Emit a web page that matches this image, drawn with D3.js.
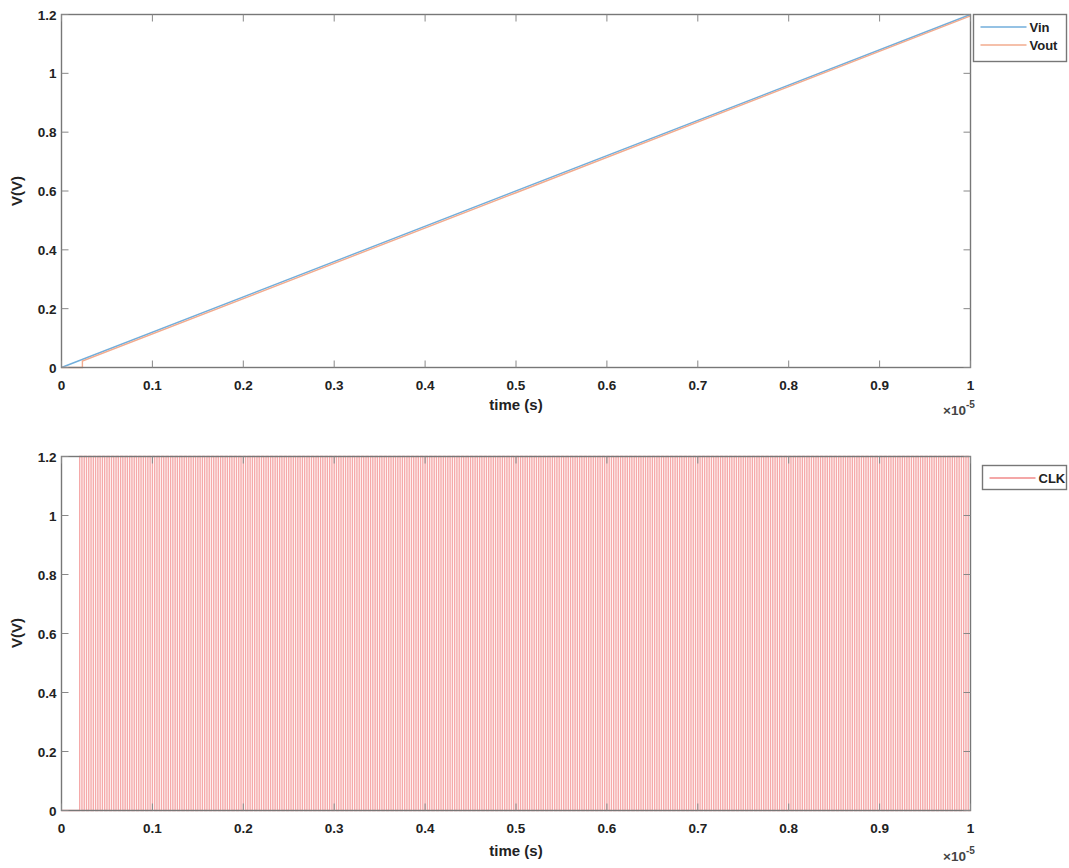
<!DOCTYPE html>
<html><head><meta charset="utf-8">
<script src="https://cdn.jsdelivr.net/npm/d3@7"></script>
<style>
html,body{margin:0;padding:0;background:#fff;}
text{font-family:"Liberation Sans",Arial,sans-serif;font-weight:bold;fill:#222;}
</style></head>
<body>
<svg id="c" width="1069" height="868"></svg>
<script>
// ---- data (time in units of 1e-5 s, voltage in V) ----
const xTicks = [0, 0.1, 0.2, 0.3, 0.4, 0.5, 0.6, 0.7, 0.8, 0.9, 1];
const yTicks = [0, 0.2, 0.4, 0.6, 0.8, 1, 1.2];
const xTickLabels = ["0","0.1","0.2","0.3","0.4","0.5","0.6","0.7","0.8","0.9","1"];
const yTickLabels = ["0","0.2","0.4","0.6","0.8","1","1.2"];
const vinT = [0, 1];
const vinV = [0, 1.2];
const voutT = [0, 0.023, 0.023, 0.5, 1];
const voutV = [0, 0, 0.022, 0.594, 1.195];
const clkLevels = [0, 1.2];
const clkStart = 0.02;
const clkPeriod = 0.005;
const clkEnd = 1;
const legendTop = ["Vin", "Vout"];
const legendBottom = ["CLK"];

// clock edges built from its start, period and levels
const clkPts = [[0, clkLevels[0]], [clkStart, clkLevels[0]]];
for (let k = 0; clkStart + k * clkPeriod < clkEnd - 1e-9; k++) {
  const t0 = clkStart + k * clkPeriod, t1 = Math.min(t0 + clkPeriod / 2, clkEnd), t2 = Math.min(t0 + clkPeriod, clkEnd);
  clkPts.push([t0, clkLevels[1]], [t1, clkLevels[1]], [t1, clkLevels[0]], [t2, clkLevels[0]]);
}

const svg = d3.select("#c");
const W = {l: 61.5, r: 970.5};
const panels = [
  {top: 14.5, bot: 367.5, series: [
      {pts: vinT.map((t, i) => [t, vinV[i]]), color: "#72aedb", w: 1.4},
      {pts: voutT.map((t, i) => [t, voutV[i]]), color: "#f2ab8e", w: 1.4}],
   legend: {x: 973.5, y: 14.5, w: 93, h: 47, items: legendTop, colors: ["#72aedb", "#f2ab8e"]},
   xlabY: 410, x10Y: 415, ylabY: 191},
  {top: 456.5, bot: 810.5, series: [
      {pts: clkPts, color: "#f5a9a9", w: 1.4}],
   legend: {x: 982.5, y: 465.5, w: 84, h: 24, items: legendBottom, colors: ["#f08a8a"]},
   xlabY: 856, x10Y: 861, ylabY: 633}
];

panels.forEach(p => {
  const x = d3.scaleLinear().domain([0, 1]).range([W.l, W.r]);
  const y = d3.scaleLinear().domain([0, 1.2]).range([p.bot, p.top]);
  const g = svg.append("g");
  const line = d3.line().x(d => x(d[0])).y(d => y(d[1]));
  p.series.forEach(s => {
    g.append("path").attr("d", line(s.pts)).attr("fill", "none")
      .attr("stroke", s.color).attr("stroke-width", s.w);
  });
  // box
  g.append("rect").attr("x", W.l).attr("y", p.top).attr("width", W.r - W.l).attr("height", p.bot - p.top)
    .attr("fill", "none").attr("stroke", "#777").attr("stroke-width", 1.4);
  // ticks
  const tl = 7;
  xTicks.forEach((t, i) => {
    g.append("line").attr("x1", x(t)).attr("x2", x(t)).attr("y1", p.bot).attr("y2", p.bot - tl).attr("stroke", "#888");
    g.append("line").attr("x1", x(t)).attr("x2", x(t)).attr("y1", p.top).attr("y2", p.top + tl).attr("stroke", "#888");
    g.append("text").attr("x", x(t)).attr("y", p.bot + 22).attr("text-anchor", "middle")
      .attr("font-size", 13.5).text(xTickLabels[i]);
  });
  yTicks.forEach((t, i) => {
    g.append("line").attr("x1", W.l).attr("x2", W.l + tl).attr("y1", y(t)).attr("y2", y(t)).attr("stroke", "#888");
    g.append("line").attr("x1", W.r).attr("x2", W.r - tl).attr("y1", y(t)).attr("y2", y(t)).attr("stroke", "#888");
    g.append("text").attr("x", W.l - 5).attr("y", y(t) + 5).attr("text-anchor", "end")
      .attr("font-size", 13.5).text(yTickLabels[i]);
  });
  // labels
  g.append("text").attr("x", (W.l + W.r) / 2).attr("y", p.xlabY).attr("text-anchor", "middle")
    .attr("font-size", 15).text("time (s)");
  const ex = g.append("text").attr("x", 943).attr("y", p.x10Y).attr("font-size", 13.5).attr("font-weight", "normal").style("fill", "#444");
  ex.append("tspan").text("×10");
  ex.append("tspan").attr("dy", -7).attr("font-size", 10).text("-5");
  g.append("text").attr("transform", `translate(22,${p.ylabY}) rotate(-90)`).attr("text-anchor", "middle")
    .attr("font-size", 15).text("V(V)");
  // legend
  const L = p.legend;
  const lg = g.append("g");
  lg.append("rect").attr("x", L.x).attr("y", L.y).attr("width", L.w).attr("height", L.h)
    .attr("fill", "#fff").attr("stroke", "#777").attr("stroke-width", 1.4);
  L.items.forEach((name, i) => {
    const cy = L.y + 12.5 + i * 18;
    lg.append("line").attr("x1", L.x + 7).attr("x2", L.x + 53).attr("y1", cy).attr("y2", cy)
      .attr("stroke", L.colors[i]).attr("stroke-width", 1.6);
    lg.append("text").attr("x", L.x + 56).attr("y", cy + 4.5).attr("font-size", 13).text(name);
  });
});
</script>
</body></html>
